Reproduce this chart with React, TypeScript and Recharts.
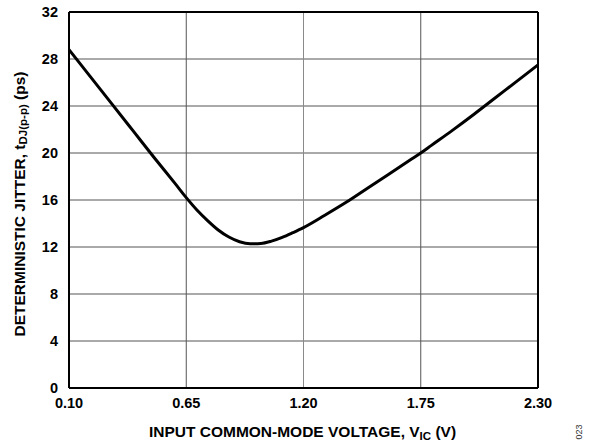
import React from "react";
import { LineChart, Line, XAxis, YAxis, CartesianGrid, ReferenceLine, Label } from "recharts";

const voltage = [0.1, 0.2, 0.3, 0.4, 0.5, 0.6, 0.65, 0.7, 0.75, 0.8, 0.85, 0.9, 0.95, 1.0, 1.05, 1.1, 1.15, 1.2, 1.3, 1.4, 1.5, 1.6, 1.7, 1.75, 1.8, 1.9, 2.0, 2.1, 2.2, 2.3];
const jitter = [28.8, 26.5, 24.2, 21.9, 19.6, 17.35, 16.2, 15.15, 14.25, 13.45, 12.85, 12.45, 12.28, 12.3, 12.5, 12.82, 13.22, 13.65, 14.7, 15.8, 17.0, 18.2, 19.4, 20.0, 20.65, 21.95, 23.3, 24.7, 26.1, 27.5];
const xTicks = [0.1, 0.65, 1.2, 1.75, 2.3];
const yTicks = [0, 4, 8, 12, 16, 20, 24, 28, 32];

const data = voltage.map((v, i) => ({ v, j: jitter[i] }));

const FONT = "'Liberation Sans', Arial, sans-serif";

const YTitle = (props: any) => {
  const { viewBox } = props;
  const cx = 19;
  const cy = viewBox.y + viewBox.height / 2 + 4;
  return (
    <text
      x={cx}
      y={cy}
      transform={`rotate(-90 ${cx} ${cy})`}
      textAnchor="middle"
      dominantBaseline="central"
      fontFamily={FONT}
      fontWeight="bold"
      fontSize={15.5}
      fill="#000"
    >
      DETERMINISTIC JITTER, t
      <tspan fontSize={11.5} dy={4}>DJ(p-p)</tspan>
      <tspan dy={-4}> (ps)</tspan>
    </text>
  );
};

const XTitle = (props: any) => {
  const { viewBox } = props;
  const cx = viewBox.x + viewBox.width / 2 - 1;
  return (
    <text
      x={cx}
      y={437}
      textAnchor="middle"
      fontFamily={FONT}
      fontWeight="bold"
      fontSize={15.5}
      fill="#000"
    >
      INPUT COMMON-MODE VOLTAGE, V
      <tspan fontSize={11.5} dy={3}>IC</tspan>
      <tspan dy={-3}> (V)</tspan>
    </text>
  );
};

export default function App() {
  return (
    <div style={{ position: "absolute", left: 0, top: 0, width: 591, height: 446, background: "#fff" }}>
      <LineChart
        width={591}
        height={446}
        data={data}
        margin={{ top: 12, right: 53, bottom: 28, left: 19 }}
      >
        <CartesianGrid stroke="#555" strokeWidth={1} />
        <XAxis
          dataKey="v"
          type="number"
          domain={[0.1, 2.3]}
          ticks={xTicks}
          tickFormatter={(v: number) => v.toFixed(2)}
          tickLine={false}
          tickSize={0}
          tickMargin={10}
          height={30}
          axisLine={{ stroke: "#000", strokeWidth: 2 }}
          tick={{ fill: "#000", fontFamily: FONT, fontWeight: "bold", fontSize: 14.5 }}
          interval={0}
        >
          <Label content={XTitle} />
        </XAxis>
        <YAxis
          type="number"
          domain={[0, 32]}
          ticks={yTicks}
          tickLine={false}
          tickSize={0}
          tickMargin={11}
          width={50}
          axisLine={{ stroke: "#000", strokeWidth: 2 }}
          tick={{ fill: "#000", fontFamily: FONT, fontWeight: "bold", fontSize: 14.5 }}
          interval={0}
        >
          <Label content={YTitle} />
        </YAxis>
        <ReferenceLine x={1.2} stroke="#8a8a8a" strokeWidth={1} />
        <ReferenceLine x={2.3} stroke="#000" strokeWidth={2} />
        <ReferenceLine y={32} stroke="#000" strokeWidth={2} />
        <Line
          type="monotone"
          dataKey="j"
          stroke="#000"
          strokeWidth={3}
          dot={false}
          isAnimationActive={false}
        />
      </LineChart>
      <svg style={{ position: "absolute", left: 0, top: 0 }} width={591} height={446} pointerEvents="none">
        <text
          x={579}
          y={432}
          transform="rotate(-90 579 432)"
          textAnchor="middle"
          dominantBaseline="central"
          fontFamily={FONT}
          fontSize={9}
          fill="#333"
        >
          023
        </text>
      </svg>
    </div>
  );
}
